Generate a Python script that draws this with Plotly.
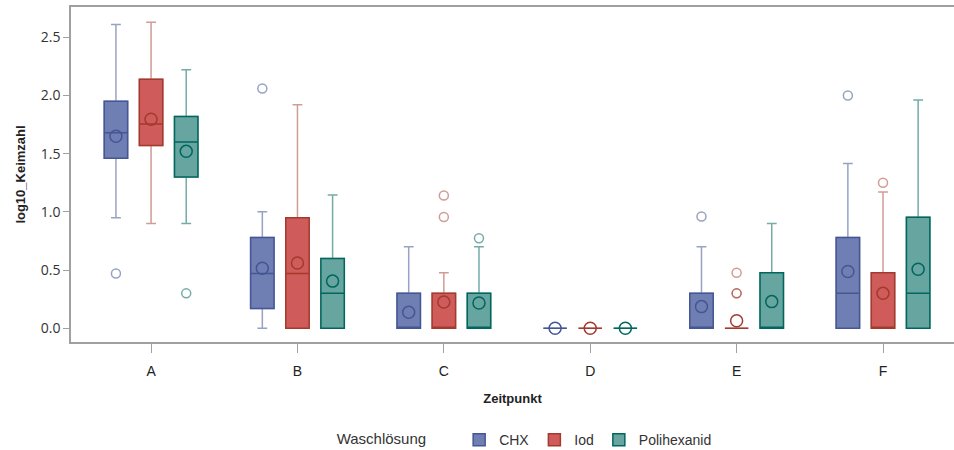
import plotly.graph_objects as go

categories = ["A", "B", "C", "D", "E", "F"]
groups = ["CHX", "Iod", "Polihexanid"]

# box statistics per group, one value per category
q1 = {
    "CHX":         [1.46, 0.17, 0.00, 0.00, 0.00, 0.00],
    "Iod":         [1.57, 0.00, 0.00, 0.00, 0.00, 0.00],
    "Polihexanid": [1.30, 0.00, 0.00, 0.00, 0.00, 0.00],
}
median = {
    "CHX":         [1.68, 0.47, 0.00, 0.00, 0.00, 0.30],
    "Iod":         [1.755, 0.47, 0.00, 0.00, 0.00, 0.00],
    "Polihexanid": [1.60, 0.30, 0.00, 0.00, 0.00, 0.30],
}
q3 = {
    "CHX":         [1.95, 0.78, 0.30, 0.00, 0.30, 0.78],
    "Iod":         [2.14, 0.95, 0.30, 0.00, 0.00, 0.477],
    "Polihexanid": [1.82, 0.60, 0.30, 0.00, 0.477, 0.954],
}
lower = {
    "CHX":         [0.95, 0.00, 0.00, 0.00, 0.00, 0.00],
    "Iod":         [0.90, 0.00, 0.00, 0.00, 0.00, 0.00],
    "Polihexanid": [0.90, 0.00, 0.00, 0.00, 0.00, 0.00],
}
upper = {
    "CHX":         [2.61, 1.00, 0.70, 0.00, 0.70, 1.415],
    "Iod":         [2.63, 1.92, 0.477, 0.00, 0.00, 1.17],
    "Polihexanid": [2.22, 1.145, 0.70, 0.00, 0.90, 1.96],
}
mean = {
    "CHX":         [1.65, 0.515, 0.137, 0.00, 0.186, 0.487],
    "Iod":         [1.795, 0.56, 0.226, 0.00, 0.065, 0.30],
    "Polihexanid": [1.52, 0.405, 0.217, 0.00, 0.229, 0.507],
}
# outliers
outlier_cat = {
    "CHX":         ["A", "B", "E", "F"],
    "Iod":         ["C", "C", "E", "E", "E", "F"],
    "Polihexanid": ["A", "C"],
}
outlier_val = {
    "CHX":         [0.47, 2.06, 0.96, 2.00],
    "Iod":         [1.14, 0.956, 0.477, 0.30, 0.30, 1.25],
    "Polihexanid": [0.30, 0.773],
}

fill_col = {"CHX": "#6F7EB3", "Iod": "#D05B5B", "Polihexanid": "#66A5A0"}
line_col = {"CHX": "#445694", "Iod": "#A23A2E", "Polihexanid": "#01665E"}
whisk_col = {"CHX": "rgba(68,86,148,0.55)", "Iod": "rgba(162,58,46,0.5)", "Polihexanid": "rgba(1,102,94,0.55)"}

offsets = {"CHX": -0.24, "Iod": 0.0, "Polihexanid": 0.24}
box_w = 0.16

fig = go.Figure()
idx = {c: i for i, c in enumerate(categories)}

for g in groups:
    xs = [i + offsets[g] for i in range(len(categories))]
    # whiskers (lighter)
    fig.add_trace(go.Box(
        x=xs, q1=q1[g], median=median[g], q3=q3[g],
        lowerfence=lower[g], upperfence=upper[g],
        width=box_w, whiskerwidth=0.42,
        fillcolor="rgba(0,0,0,0)", line=dict(color=whisk_col[g], width=1.5),
        showlegend=False, legendgroup=g, hoverinfo="skip",
    ))
    # box body
    fig.add_trace(go.Box(
        x=xs, q1=q1[g], median=median[g], q3=q3[g],
        lowerfence=q1[g], upperfence=q3[g],
        width=box_w, whiskerwidth=0,
        fillcolor=fill_col[g], line=dict(color=line_col[g], width=1.5),
        name=g, legendgroup=g, showlegend=True,
    ))
    # means
    fig.add_trace(go.Scatter(
        x=xs, y=mean[g], mode="markers",
        marker=dict(symbol="circle-open", size=12, color=line_col[g], line=dict(width=1.5)),
        showlegend=False, legendgroup=g,
    ))
    # outliers
    fig.add_trace(go.Scatter(
        x=[idx[c] + offsets[g] for c in outlier_cat[g]], y=outlier_val[g], mode="markers",
        marker=dict(symbol="circle-open", size=9, color=whisk_col[g], line=dict(width=1.5)),
        showlegend=False, legendgroup=g,
    ))

axis_col = "#A0A0A0"
fig.update_layout(
    width=954, height=450,
    margin=dict(l=71, r=0, t=7, b=108),
    plot_bgcolor="white", paper_bgcolor="white",
    font=dict(family="Liberation Sans, Arial, sans-serif", size=13, color="#333333"),
    xaxis=dict(
        range=[-0.547, 5.485], tickvals=list(range(len(categories))), ticktext=categories,
        showgrid=False, zeroline=False, showline=True, linecolor=axis_col, linewidth=1.5,
        mirror=True, ticks="outside", ticklen=9, tickcolor=axis_col, tickwidth=1,
        tickfont=dict(size=14, color="#222222"), ticklabelstandoff=6, automargin=False,
        title=dict(text="<b>Zeitpunkt</b>", font=dict(size=13, color="#222222"), standoff=16),
    ),
    yaxis=dict(
        range=[-0.118, 2.76], tickvals=[0, 0.5, 1.0, 1.5, 2.0, 2.5], tickformat=".1f",
        showgrid=False, zeroline=False, showline=True, linecolor=axis_col, linewidth=1.5,
        ticks="outside", ticklen=6, tickcolor=axis_col, tickwidth=1, automargin=False,
        tickfont=dict(family="Open Sans, sans-serif", size=14, color="#333333"),
        title=dict(text="<b>log10_Keimzahl</b>", font=dict(size=13, color="#222222"), standoff=12),
    ),
    legend=dict(
        orientation="h", x=0.551, xref="container", xanchor="center",
        y=0.022, yref="container", yanchor="middle",
        title=dict(text="Waschlösung      ", side="left", font=dict(size=15, color="#333333")),
        font=dict(size=14, color="#333333"), itemwidth=30, tracegroupgap=0,
    ),
)

fig.write_html("out.html", config={"displayModeBar": False},
               post_script="document.body.style.margin='0px';")
